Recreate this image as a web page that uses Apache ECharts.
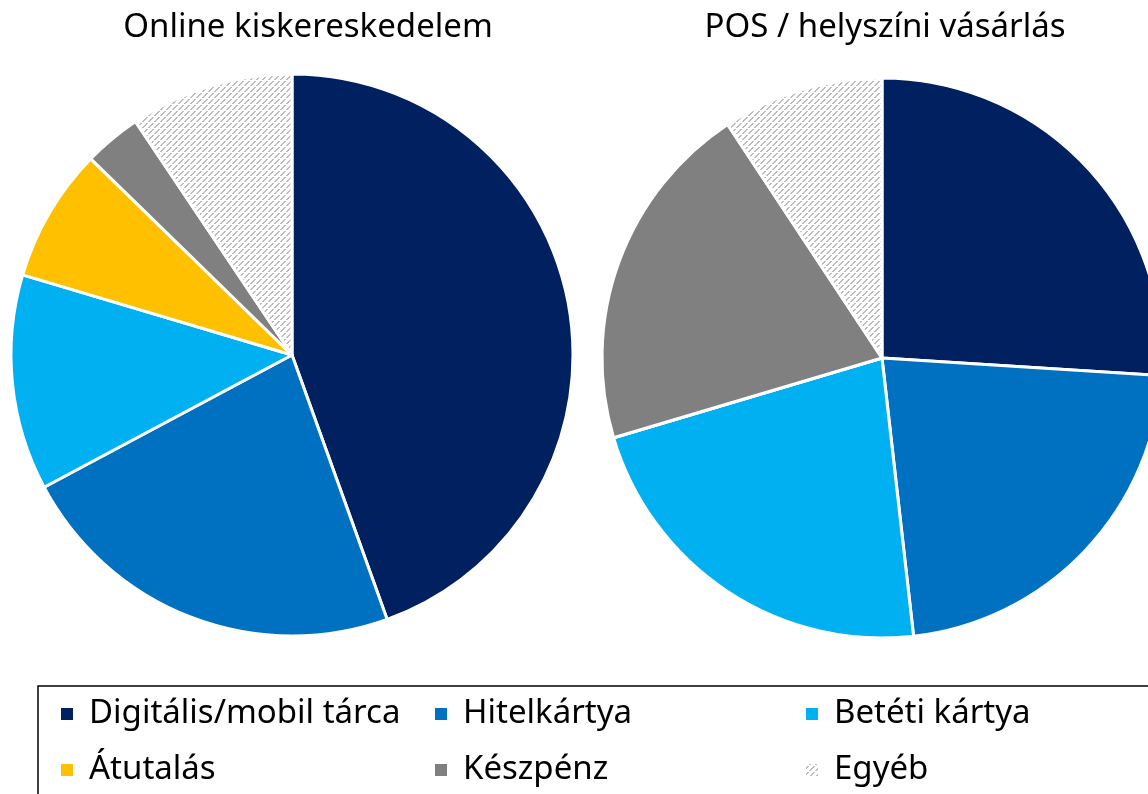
<!DOCTYPE html>
<html>
<head>
<meta charset="utf-8">
<script src="https://cdn.jsdelivr.net/npm/echarts@6/dist/echarts.min.js"></script>
<style>
  html, body { margin: 0; padding: 0; background: #fff; }
  #chart { width: 1148px; height: 794px; }
</style>
</head>
<body>
<div id="chart"></div>
<script>
var categories = ['Digitális/mobil tárca', 'Hitelkártya', 'Betéti kártya', 'Átutalás', 'Készpénz', 'Egyéb'];
var onlineValues = [44.5, 22.7, 12.4, 7.7, 3.3, 9.4];
var posValues = [26.0, 22.2, 22.2, 0, 20.3, 9.3];
var pieTitles = ['Online kiskereskedelem', 'POS / helyszíni vásárlás'];

var FONT = '"Noto Sans", sans-serif';

// diagonal hatch for "Egyéb"
function hatch() {
	var n = 6;
	var c = document.createElement('canvas');
	c.width = n;
	c.height = n;
	var ctx = c.getContext('2d');
	ctx.fillStyle = '#ffffff';
	ctx.fillRect(0, 0, n, n);
	ctx.fillStyle = '#bdbdbd';
	for (var i = 0; i < n; i++) {
		if (i === 3) continue;
		ctx.fillRect(i, n - 1 - i, 1, 1);
		ctx.fillRect((i + 1) % n, n - 1 - i, 1, 1);
	}
	return { image: c, repeat: 'repeat' };
}

var colors = ['#002060', '#0070C0', '#00B0F0', '#FFC000', '#808080', hatch()];

function pieData(values) {
	return categories.map(function(name, i) {
		return { name: name, value: values[i], itemStyle: { color: colors[i] } };
	});
}

function legendFor(name, left, top) {
	return {
		data: [name],
		left: left,
		top: top,
		padding: 0,
		orient: 'horizontal',
		icon: 'rect',
		itemWidth: 14,
		itemHeight: 14,
		selectedMode: false,
		textStyle: {
			fontFamily: FONT,
			fontSize: 33,
			color: '#000',
			lineHeight: 34,
			padding: [0, 0, 0, 10]
		}
	};
}

var chart = echarts.init(document.getElementById('chart'));

var option = {
	animation: false,
	backgroundColor: '#fff',
	legend: [
		legendFor(categories[0], 59, 697),
		legendFor(categories[1], 433, 697),
		legendFor(categories[2], 804, 697),
		legendFor(categories[3], 59, 753),
		legendFor(categories[4], 433, 753),
		legendFor(categories[5], 804, 753)
	],
	graphic: [
		{
			type: 'rect',
			shape: { x: 38, y: 686, width: 1130, height: 130 },
			style: { fill: 'none', stroke: '#000', lineWidth: 1.5 },
			silent: true
		},
		{
			type: 'text',
			x: 308, y: 28,
			style: { text: pieTitles[0], fontFamily: FONT, fontSize: 33, fill: '#000', align: 'center', verticalAlign: 'middle' }
		},
		{
			type: 'text',
			x: 885, y: 28,
			style: { text: pieTitles[1], fontFamily: FONT, fontSize: 33, fill: '#000', align: 'center', verticalAlign: 'middle' }
		}
	],
	series: [{
		type: 'pie',
		name: pieTitles[0],
		center: [292, 355],
		radius: 281,
		startAngle: 90,
		clockwise: true,
		label: { show: false },
		labelLine: { show: false },
		itemStyle: { borderColor: '#fff', borderWidth: 3 },
		emphasis: { disabled: true },
		data: pieData(onlineValues)
	}, {
		type: 'pie',
		name: pieTitles[1],
		center: [882, 358],
		radius: 280,
		startAngle: 90,
		clockwise: true,
		label: { show: false },
		labelLine: { show: false },
		itemStyle: { borderColor: '#fff', borderWidth: 3 },
		emphasis: { disabled: true },
		data: pieData(posValues)
	}]
};
chart.setOption(option);
</script>
</body>
</html>
